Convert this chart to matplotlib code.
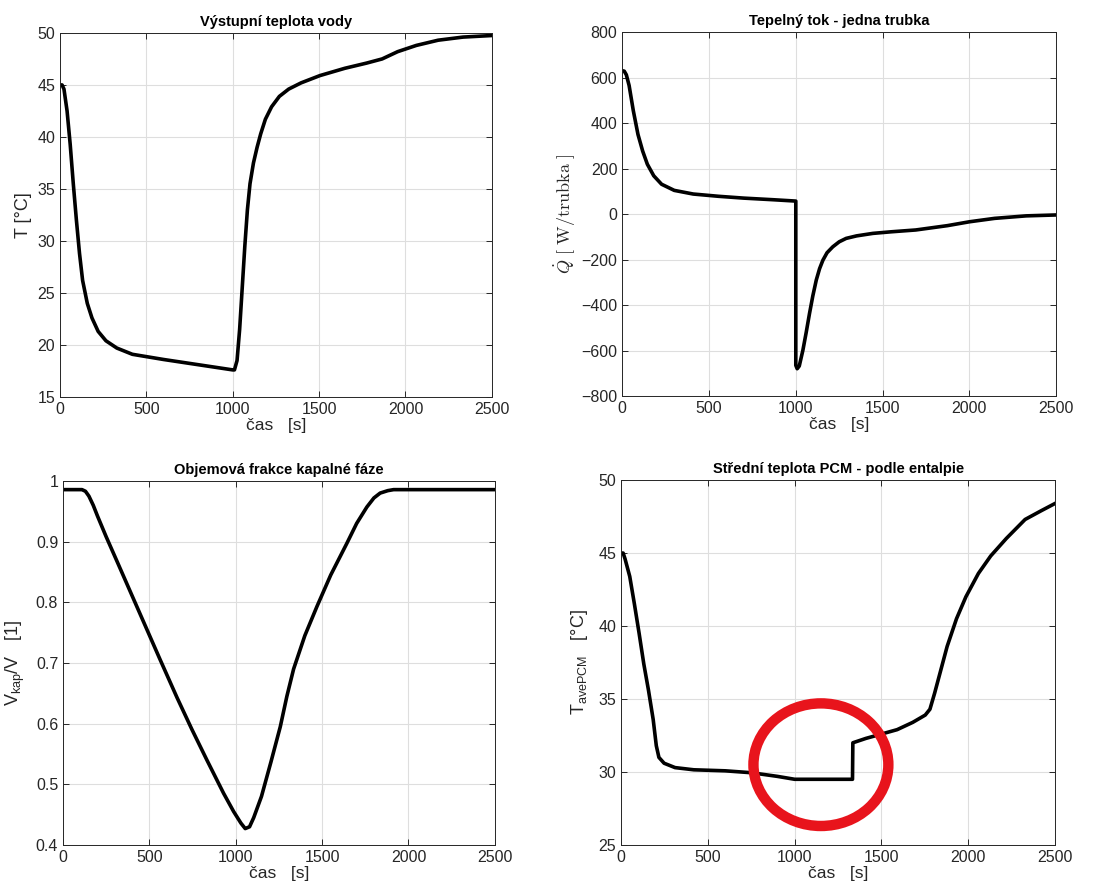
import matplotlib
matplotlib.use("Agg")
import matplotlib.pyplot as plt
from matplotlib.patches import Ellipse

plt.rcParams['font.family'] = ['Liberation Sans', 'DejaVu Sans']
plt.rcParams['mathtext.fontset'] = 'custom'
plt.rcParams['mathtext.rm'] = 'Liberation Sans'
plt.rcParams['mathtext.it'] = 'Liberation Sans:italic'
plt.rcParams['mathtext.bf'] = 'Liberation Sans:bold'

# Outlet water temperature
t_water = [0, 12, 23, 41, 59, 77, 95, 113, 131, 158, 185, 221, 266, 329, 419,
           600, 800, 1000, 1010, 1025, 1040, 1055, 1070, 1085, 1100, 1120,
           1141, 1162, 1189, 1225, 1270, 1324, 1396, 1505, 1649, 1775, 1865,
           1955, 2063, 2189, 2333, 2500]
T_water = [45.0, 45.0, 44.6, 42.5, 39.3, 35.5, 32.0, 28.8, 26.2, 24.0, 22.6,
           21.3, 20.4, 19.7, 19.1, 18.6, 18.1, 17.6, 17.6, 18.5, 21.5, 25.5,
           29.5, 33.0, 35.5, 37.5, 39.0, 40.3, 41.7, 42.9, 43.9, 44.6, 45.2,
           45.9, 46.6, 47.1, 47.5, 48.2, 48.8, 49.3, 49.6, 49.75]

# Heat flow per tube
t_flow = [0, 12, 24, 40, 64, 91, 118, 145, 182, 227, 300, 409, 555, 700, 868,
          1000, 1000, 1008, 1020, 1041, 1060, 1079, 1098, 1118, 1137, 1156,
          1180, 1213, 1250, 1290, 1350, 1444, 1550, 1691, 1873, 2000, 2145,
          2327, 2500]
Q_flow = [630, 628, 612, 565, 455, 350, 277, 219, 168, 131, 104, 88, 78, 70,
          63, 57, -665, -680, -668, -598, -520, -437, -360, -290, -240, -203,
          -170, -144, -122, -107, -96, -85, -78, -70, -51, -34, -19, -8, -4]

# Liquid phase volume fraction
t_liq = [0, 110, 130, 150, 175, 200, 250, 312, 409, 486, 563, 660, 747, 833,
         930, 988, 1030, 1055, 1080, 1104, 1149, 1204, 1258, 1296, 1335, 1400,
         1470, 1550, 1643, 1700, 1759, 1800, 1836, 1880, 1914, 2500]
V_liq = [0.9857, 0.9857, 0.983, 0.975, 0.960, 0.942, 0.908, 0.868, 0.805,
         0.755, 0.705, 0.643, 0.590, 0.540, 0.485, 0.455, 0.436, 0.427, 0.430,
         0.445, 0.480, 0.537, 0.595, 0.645, 0.690, 0.745, 0.793, 0.845, 0.897,
         0.930, 0.957, 0.972, 0.980, 0.984, 0.9857, 0.9857]

# Mean PCM temperature from enthalpy
t_pcm = [0, 12, 23, 50, 77, 104, 131, 158, 185, 203, 218, 248, 311, 419, 600,
         750, 900, 1000, 1333, 1335, 1410, 1500, 1590, 1680, 1752, 1779, 1806,
         1842, 1878, 1932, 1986, 2058, 2129, 2219, 2327, 2420, 2500]
T_pcm = [45.0, 45.0, 44.6, 43.4, 41.5, 39.5, 37.4, 35.6, 33.6, 31.8, 31.0,
         30.6, 30.3, 30.15, 30.08, 29.95, 29.7, 29.5, 29.5, 32.0, 32.3, 32.6,
         32.9, 33.4, 33.9, 34.3, 35.4, 37.0, 38.6, 40.5, 42.0, 43.6, 44.8,
         46.0, 47.3, 47.9, 48.4]

# Highlight around the plateau
mark_center = (1151, 30.5)
mark_width = 777
mark_height = 8.4

text_col = '#262626'
grid_col = '#dedede'

fig = plt.figure(figsize=(11.13, 8.9), dpi=100)
ax1 = fig.add_axes([0.0539, 0.554, 0.388, 0.409])
ax2 = fig.add_axes([0.559, 0.555, 0.390, 0.409])
ax3 = fig.add_axes([0.0566, 0.0506, 0.388, 0.409])
ax4 = fig.add_axes([0.558, 0.0506, 0.390, 0.410])


def style(ax, ylim, yticks):
    ax.set_xlim(0, 2500)
    ax.set_ylim(*ylim)
    ax.set_xticks([0, 500, 1000, 1500, 2000, 2500])
    ax.set_yticks(yticks)
    ax.grid(True, color=grid_col, linewidth=0.8)
    ax.set_axisbelow(True)
    ax.tick_params(direction='in', top=True, right=True, length=4,
                   labelsize=11.5, colors=text_col, width=0.7)
    for sp in ax.spines.values():
        sp.set_color(text_col)
        sp.set_linewidth(0.7)
    ax.set_xlabel('čas   [s]', fontsize=12.5, color=text_col, labelpad=1)


lw = 2.6

ax1.plot(t_water, T_water, color='black', linewidth=lw)
style(ax1, (15, 50), [15, 20, 25, 30, 35, 40, 45, 50])
ax1.set_title('Výstupní teplota vody', fontsize=10.5, fontweight='bold', pad=5)
ax1.set_ylabel('T [°C]', fontsize=13, color=text_col, labelpad=4)

ax2.plot(t_flow, Q_flow, color='black', linewidth=lw)
style(ax2, (-800, 800), [-800, -600, -400, -200, 0, 200, 400, 600, 800])
ax2.set_title('Tepelný tok - jedna trubka', fontsize=10.5, fontweight='bold', pad=5)
ax2.set_ylabel(r'$\dot{Q}\ [\ \mathrm{W/trubka}\ ]$', fontsize=13,
               color=text_col, math_fontfamily='cm', labelpad=2)

ax3.plot(t_liq, V_liq, color='black', linewidth=lw)
style(ax3, (0.4, 1.0), [0.4, 0.5, 0.6, 0.7, 0.8, 0.9, 1.0])
ax3.set_yticklabels(['0.4', '0.5', '0.6', '0.7', '0.8', '0.9', '1'])
ax3.set_title('Objemová frakce kapalné fáze', fontsize=10.5, fontweight='bold', pad=5)
ax3.set_ylabel(r'V$_{\mathrm{kap}}$/V   [1]', fontsize=13, color=text_col, labelpad=6)

ax4.plot(t_pcm, T_pcm, color='black', linewidth=lw)
style(ax4, (25, 50), [25, 30, 35, 40, 45, 50])
ax4.set_title('Střední teplota PCM - podle entalpie', fontsize=10.5,
              fontweight='bold', pad=5)
ax4.set_ylabel(r'T$_{\mathrm{avePCM}}$   [°C]', fontsize=13, color=text_col, labelpad=6)
ax4.add_patch(Ellipse(mark_center, mark_width, mark_height, fill=False,
                      edgecolor='#e8141c', linewidth=7.5, zorder=5))

fig.savefig('out.png', dpi=100)
